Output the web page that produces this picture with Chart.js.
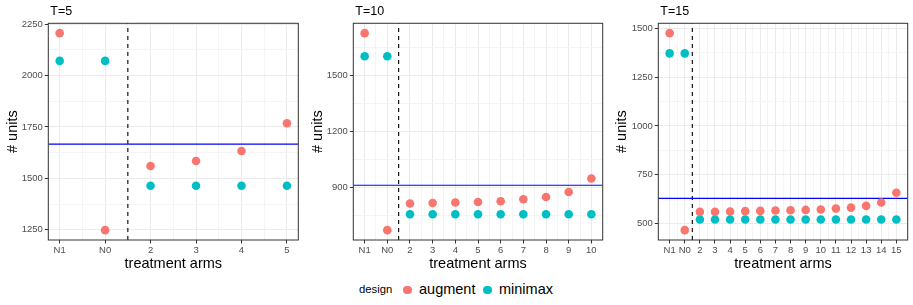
<!DOCTYPE html>
<html>
<head>
  <meta charset="utf-8">
  <title>Treatment arms</title>
  <script src="https://cdn.jsdelivr.net/npm/chart.js@4.4.1/dist/chart.umd.min.js"></script>
  <style>
    body {
      margin: 0;
      background: #fff;
      font-family: "Liberation Sans", Arial, sans-serif;
    }
    #wrap {
      position: relative;
      width: 913px;
      height: 305px;
      overflow: hidden;
    }
    canvas {
      position: absolute;
      top: 0;
    }
    .lg {
      position: absolute;
      white-space: nowrap;
      color: #000;
    }
    .dot {
      position: absolute;
      width: 8.6px;
      height: 8.6px;
      border-radius: 50%;
    }
  </style>
</head>
<body>
  <div id="wrap">
    <canvas id="c5" width="305" height="275" style="left:0px"></canvas>
    <canvas id="c10" width="304" height="275" style="left:305px"></canvas>
    <canvas id="c15" width="304" height="275" style="left:609px"></canvas>

    <span class="lg" style="left:359px; top:283.5px; font-size:11.3px; line-height:11.3px;">design</span>
    <div class="dot" style="left:403px; top:285.7px; background:#F8766D;"></div>
    <span class="lg" style="left:419px; top:281.7px; font-size:14.5px; line-height:14.5px;">augment</span>
    <div class="dot" style="left:483px; top:285.7px; background:#00BFC4;"></div>
    <span class="lg" style="left:499px; top:281.7px; font-size:14.5px; line-height:14.5px;">minimax</span>
  </div>

  <script>
    // values
    const titles = ['T=5', 'T=10', 'T=15'];

    const arms5 = ['N1', 'N0', '2', '3', '4', '5'];
    const augment5 = [2206, 1248, 1560, 1584, 1633, 1768];
    const minimax5 = [2071, 2071, 1464, 1464, 1464, 1464];

    const arms10 = ['N1', 'N0', '2', '3', '4', '5', '6', '7', '8', '9', '10'];
    const augment10 = [1727, 670, 813, 816, 818, 821, 825, 836, 848, 875, 947];
    const minimax10 = [1603, 1603, 755, 755, 755, 755, 755, 755, 755, 755, 755];

    const arms15 = ['N1', 'N0', '2', '3', '4', '5', '6', '7', '8', '9', '10', '11', '12', '13', '14', '15'];
    const augment15 = [1477, 464, 558, 558, 560, 562, 563, 565, 566, 568, 570, 575, 580, 589, 606, 656];
    const minimax15 = [1373, 1373, 519, 519, 519, 519, 519, 519, 519, 519, 519, 519, 519, 519, 519, 519];

    const refLine = [1666, 911, 627];   // blue horizontal line per panel
    const splitAt = 1.5;                // dashed line between N0 and arm 2

    const yTicks5 = [1250, 1500, 1750, 2000, 2250];
    const yTicks10 = [900, 1200, 1500];
    const yTicks15 = [500, 750, 1000, 1250, 1500];

    const AUG = '#F8766D';
    const MINI = '#00BFC4';
    const FONT = '"Liberation Sans", Arial, sans-serif';

    // panel title drawn at the left edge of the plot area, plus the panel border
    const panelDeco = {
      id: 'panelDeco',
      afterDraw(chart, args, opts) {
        const ctx = chart.ctx;
        const a = chart.chartArea;
        ctx.save();
        ctx.strokeStyle = '#333333';
        ctx.lineWidth = 1;
        ctx.strokeRect(a.left, a.top, a.right - a.left, a.bottom - a.top);
        ctx.fillStyle = '#000';
        ctx.font = '12.5px ' + FONT;
        ctx.textBaseline = 'alphabetic';
        ctx.fillText(opts.text, a.left + 2, 15);
        ctx.restore();
      }
    };

    function expand(lo, hi) {
      const pad = (hi - lo) * 0.05;
      return [lo - pad, hi + pad];
    }

    function makePanel(id, title, arms, augment, minimax, hline, yTicks, yWidth, padRight) {
      const n = arms.length;
      const [xMin, xMax] = expand(0, n - 1);
      const all = augment.concat(minimax, [hline]);
      const [yMin, yMax] = expand(Math.min(...all), Math.max(...all));
      const yStep = yTicks[1] - yTicks[0];

      // major + minor x positions (halves)
      const xPos = [];
      for (let i = 0; i <= (n - 1) * 2; i++) xPos.push(i / 2);
      // major + minor y positions
      const yPos = [];
      for (let v = yTicks[0] - yStep; v <= yTicks[yTicks.length - 1] + yStep; v += yStep / 2) {
        if (v >= yMin && v <= yMax) yPos.push(v);
      }
      const isMajorX = v => Number.isInteger(v);
      const isMajorY = v => yTicks.includes(v);

      const gridOpts = (isMajor) => ({
        color: c => (c.tick && isMajor(c.tick.value)) ? '#EBEBEB' : '#F4F4F4',
        lineWidth: 1,
        tickColor: c => (c.tick && isMajor(c.tick.value)) ? '#333333' : 'rgba(0,0,0,0)',
        tickLength: 3.5,
        tickWidth: 1,
        drawTicks: true
      });

      new Chart(document.getElementById(id), {
        type: 'scatter',
        data: {
          datasets: [
            {
              label: 'augment',
              data: augment.map((v, i) => ({ x: i, y: v })),
              backgroundColor: AUG,
              pointRadius: 4.3,
              pointHoverRadius: 4.3,
              borderWidth: 0
            },
            {
              label: 'minimax',
              data: minimax.map((v, i) => ({ x: i, y: v })),
              backgroundColor: MINI,
              pointRadius: 4.3,
              pointHoverRadius: 4.3,
              borderWidth: 0
            },
            {
              label: 'ref',
              data: [{ x: xMin, y: hline }, { x: xMax, y: hline }],
              showLine: true,
              borderColor: '#0000FF',
              borderWidth: 1.2,
              pointRadius: 0
            },
            {
              label: 'split',
              data: [{ x: splitAt, y: yMin }, { x: splitAt, y: yMax }],
              showLine: true,
              borderColor: '#000000',
              borderWidth: 1.1,
              borderDash: [4, 4],
              pointRadius: 0
            }
          ]
        },
        options: {
          responsive: false,
          animation: false,
          events: [],
          layout: { padding: { left: 0, right: padRight, top: 23.3, bottom: 0 } },
          scales: {
            x: {
              type: 'linear',
              min: xMin,
              max: xMax,
              afterBuildTicks: s => { s.ticks = xPos.map(v => ({ value: v })); },
              afterFit: s => { s.height = 35; },
              grid: gridOpts(isMajorX),
              border: { display: false },
              ticks: {
                autoSkip: false,
                maxRotation: 0,
                padding: 1,
                color: '#4D4D4D',
                font: { family: FONT, size: 9.5 },
                callback: v => isMajorX(v) ? arms[v] : ''
              },
              title: {
                display: true,
                text: 'treatment arms',
                color: '#000',
                font: { family: FONT, size: 14.5 },
                padding: { top: 0, bottom: 2 }
              }
            },
            y: {
              type: 'linear',
              min: yMin,
              max: yMax,
              afterBuildTicks: s => { s.ticks = yPos.map(v => ({ value: v })); },
              afterFit: s => { s.width = yWidth; },
              grid: gridOpts(isMajorY),
              border: { display: false },
              ticks: {
                autoSkip: false,
                padding: 2,
                color: '#4D4D4D',
                font: { family: FONT, size: 9.5 },
                callback: v => isMajorY(v) ? String(v) : ''
              },
              title: {
                display: true,
                text: '# units',
                color: '#000',
                font: { family: FONT, size: 14.5 },
                padding: { top: 4, bottom: 0 }
              }
            }
          },
          plugins: {
            legend: { display: false },
            tooltip: { enabled: false },
            panelDeco: { text: title }
          }
        },
        plugins: [panelDeco]
      });
    }

    makePanel('c5', titles[0], arms5, augment5, minimax5, refLine[0], yTicks5, 48.3, 6.7);
    makePanel('c10', titles[1], arms10, augment10, minimax10, refLine[1], yTicks10, 48.3, 6.3);
    makePanel('c15', titles[2], arms15, augment15, minimax15, refLine[2], yTicks15, 49.3, 5.3);
  </script>
</body>
</html>
